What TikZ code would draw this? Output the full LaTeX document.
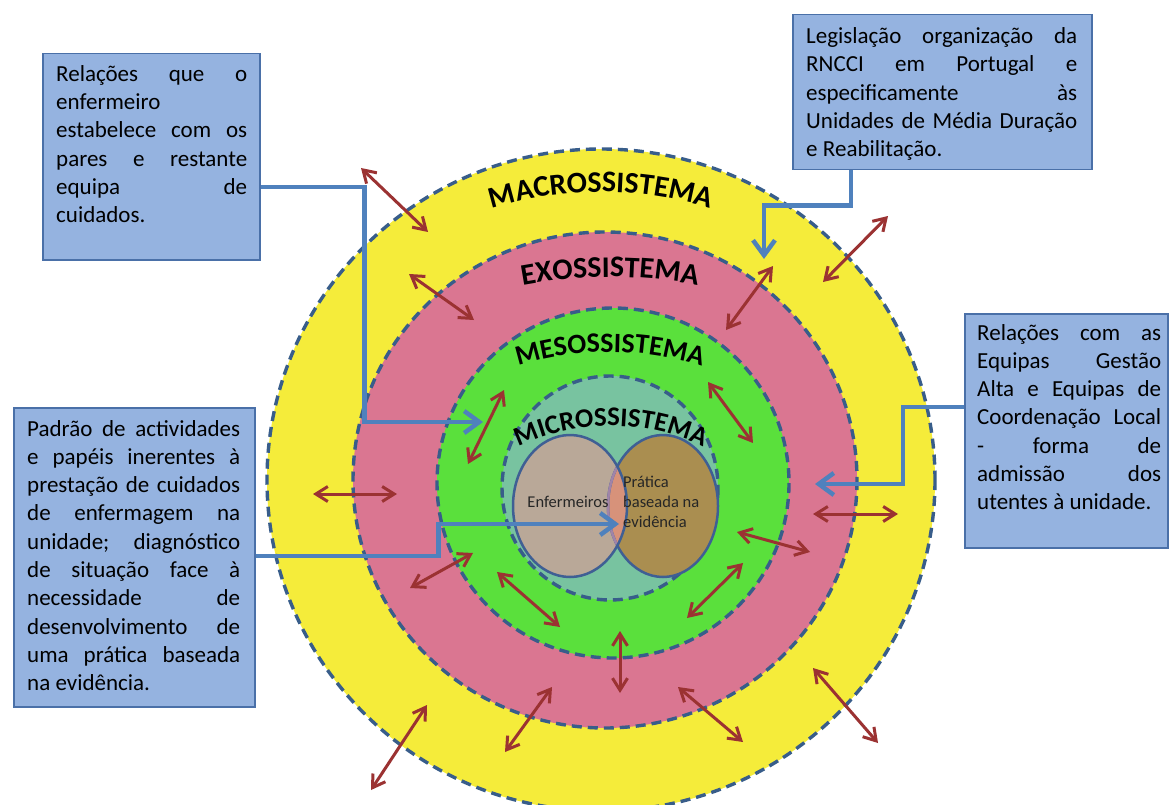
\documentclass[tikz,border=0pt]{standalone}
\usepackage{fontspec}
\setmainfont{Carlito}
\usetikzlibrary{arrows.meta,decorations.text,calc}
\definecolor{macroc}{RGB}{245,236,58}
\definecolor{exoc}{RGB}{218,118,145}
\definecolor{mesoc}{RGB}{90,224,60}
\definecolor{microc}{RGB}{120,195,160}
\definecolor{ringline}{RGB}{56,93,138}
\definecolor{boxfill}{RGB}{149,179,224}
\definecolor{boxline}{RGB}{74,112,168}
\definecolor{connc}{RGB}{79,129,189}
\definecolor{relc}{RGB}{155,50,50}
\definecolor{enfc}{RGB}{185,168,152}
\definecolor{pbec}{RGB}{170,142,80}
\definecolor{overlapc}{RGB}{215,146,122}
\definecolor{vennline}{RGB}{63,95,148}
\definecolor{vennlinetwo}{RGB}{160,132,168}
\newcommand\JL[2]{\makebox[#1][s]{\spaceskip=0.23em plus 1fil\relax\xspaceskip=0.23em plus 1fil\relax #2}}
\newcommand\NL[1]{\spaceskip=0.23em\relax\xspaceskip=0.23em\relax #1}
\begin{document}
\begin{tikzpicture}[x=1pt,y=-1pt,
  ring/.style={draw=ringline, line width=3.4pt, dash pattern=on 10pt off 6pt},
  relarrow/.style={draw=relc, line width=3pt, {Straight Barb[length=12pt,width=15pt]}-{Straight Barb[length=12pt,width=15pt]}},
  connector/.style={draw=connc, line width=4.5pt, -{Straight Barb[length=15pt,width=22pt]}},
  infobox/.style={draw=boxline, fill=boxfill, line width=1.5pt, inner sep=0pt, anchor=north west},
  infotext/.style={inner sep=0pt, anchor=north west, align=left, font=\fontsize{23}{28.3}\selectfont},
  venntext/.style={inner sep=0pt, text=black!85, font=\fontsize{16.5}{20}\selectfont}
]
\fill[white] (0,0) rectangle (1169,805);
\useasboundingbox (0,0) rectangle (1169,805);
\clip (0,0) rectangle (1169,805);

% rings
\path[ring, fill=macroc] (601,480) ellipse [x radius=334, y radius=331];
\path[ring, fill=exoc] (605,480) ellipse [x radius=252, y radius=248];
\path[ring, fill=mesoc] (613,483) ellipse [x radius=176, y radius=175];
\path[ring, fill=microc] (610,488) ellipse [x radius=108, y radius=112];

% Venn
\fill[pbec] (663,506) ellipse [x radius=55, y radius=71];
\fill[enfc] (570,506) ellipse [x radius=57, y radius=71];
\begin{scope}
  \clip (663,506) ellipse [x radius=55, y radius=71];
  \fill[overlapc] (570,506) ellipse [x radius=57, y radius=71];
\end{scope}
\draw[vennline, line width=2.5pt] (663,506) ellipse [x radius=55, y radius=71];
\begin{scope}
  \clip (570,506) ellipse [x radius=57, y radius=71];
  \draw[vennlinetwo, line width=2.5pt] (663,506) ellipse [x radius=55, y radius=71];
\end{scope}
\draw[vennline, line width=2.5pt] (570,506) ellipse [x radius=57, y radius=71];

\node[venntext, anchor=base] (enf) at (568,507) {Enfermeiros};
\node[venntext, anchor=north west, align=left] (pbe) at (623,473) {\strut Prática\\baseada na\\evidência};

% relation arrows
\foreach \xa/\ya/\xb/\yb in {361/168/428/232, 409/274/474/320, 504/390/468/464,
  313/494/397/494, 473/553/410/588, 497/572/560/627, 620/631/620/693,
  552/687/505/752, 427/705/371/790, 813/514/898/514, 737/532/810/552,
  743/563/687/618, 678/687/743/742, 813/668/878/743, 888/216/823/282,
  773/266/726/330, 708/382/753/443}
  \draw[relarrow] (\xa,\ya) -- (\xb,\yb);

% boxes
\node[infobox, minimum width=217pt, minimum height=206pt] (b1) at (42,53) {};
\node[infobox, minimum width=299pt, minimum height=155pt] (b2) at (792,14) {};
\node[infobox, minimum width=203pt, minimum height=234pt] (b3) at (964,313) {};
\node[infobox, minimum width=241pt, minimum height=299pt] (b4) at (13,407) {};

% connectors
\draw[connector] ($(b1.north east)+(0,134)$) -- ++(104,0) |- (483,422);
\draw[connector] ($(b2.south west)+(59,0)$) -- ++(0,35) -| (764,259);
\draw[connector] ($(b3.north west)+(0,94)$) -- ++(-61,0) |- (815,484);
\draw[connector] ($(b4.north east)+(0,149)$) -- ++(183,0) |- (619,524);

% box texts
\node[infotext, text width=191pt] (t1) at (56,61.2) {\noindent\JL{191pt}{\strut Relações que o}\\
enfermeiro\\
\JL{191pt}{estabelece com os}\\
\JL{191pt}{pares e restante}\\
\JL{191pt}{equipa de}\\
cuidados.};

\node[infotext, text width=271pt] (t2) at (806,23.5) {\noindent\JL{271pt}{\strut Legislação organização da}\\
\JL{271pt}{RNCCI em Portugal e}\\
\JL{271pt}{especificamente às}\\
\JL{271pt}{Unidades de Média Duração}\\
\NL{e Reabilitação.}};

\node[infotext, text width=184pt] (t3) at (977,320) {\noindent\JL{184pt}{\strut Relações com as}\\
\JL{184pt}{Equipas Gestão}\\
\JL{184pt}{Alta e Equipas de}\\
\JL{184pt}{Coordenação Local}\\
\JL{184pt}{- forma de}\\
\JL{184pt}{admissão dos}\\
\NL{utentes à unidade.}};

\node[infotext, text width=213pt] (t4) at (27,416) {\noindent\JL{213pt}{\strut Padrão de actividades}\\
\JL{213pt}{e papéis inerentes à}\\
\JL{213pt}{prestação de cuidados}\\
\JL{213pt}{de enfermagem na}\\
\JL{213pt}{unidade; diagnóstico}\\
\JL{213pt}{de situação face à}\\
\JL{213pt}{necessidade de}\\
\JL{213pt}{desenvolvimento de}\\
\JL{213pt}{uma prática baseada}\\
\NL{na evidência.}};

% system labels
\path[decorate, decoration={text along path, text align=center,
  text={|\fontsize{30}{36}\selectfont\bfseries|MACROSSISTEMA}}]
  ($(601,565)+(-117:373)$) arc [start angle=-117, end angle=-63, radius=373];
\path[decorate, decoration={text along path, text align=center,
  text={|\fontsize{30}{36}\selectfont\bfseries|EXOSSISTEMA}}]
  ($(610,754)+(-108:477)$) arc [start angle=-108, end angle=-72, radius=477];
\path[decorate, decoration={text along path, text align=center,
  text={|\fontsize{28}{34}\selectfont\bfseries|MESOSSISTEMA}}]
  ($(610,660)+(-118:308)$) arc [start angle=-118, end angle=-62, radius=308];
\path[decorate, decoration={text along path, text align=center,
  text={|\fontsize{27}{32}\selectfont\bfseries|MICROSSISTEMA}}]
  ($(611,643)+(-126:217)$) arc [start angle=-126, end angle=-54, radius=217];
\end{tikzpicture}
\end{document}
